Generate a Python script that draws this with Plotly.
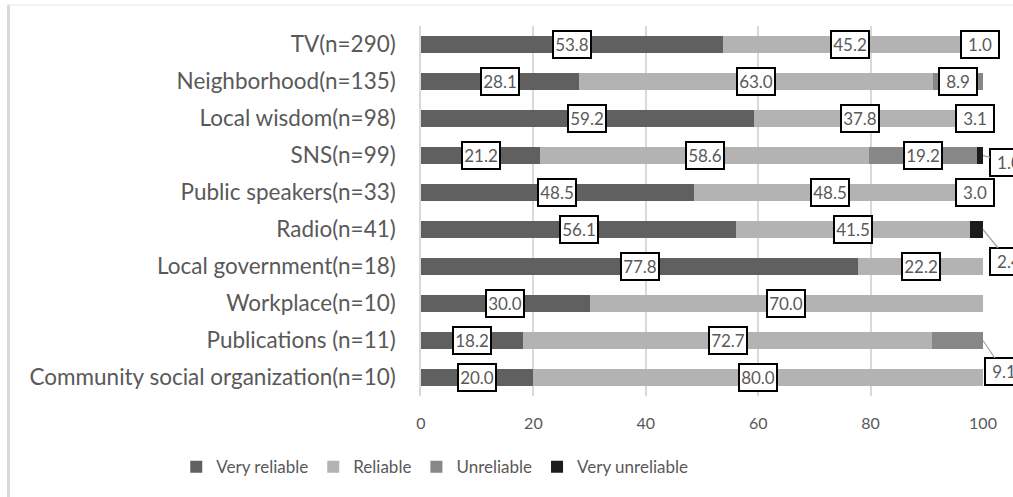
import plotly.graph_objects as go

# Information sources and the share (%) of each reliability rating
categories = [
    "TV(n=290)",
    "Neighborhood(n=135)",
    "Local wisdom(n=98)",
    "SNS(n=99)",
    "Public speakers(n=33)",
    "Radio(n=41)",
    "Local government(n=18)",
    "Workplace(n=10)",
    "Publications (n=11)",
    "Community social organization(n=10)",
]
very_reliable = [53.8, 28.1, 59.2, 21.2, 48.5, 56.1, 77.8, 30.0, 18.2, 20.0]
reliable = [45.2, 63.0, 37.8, 58.6, 48.5, 41.5, 22.2, 70.0, 72.7, 80.0]
unreliable = [1.0, 8.9, 3.1, 19.2, 3.0, 0.0, 0.0, 0.0, 9.1, 0.0]
very_unreliable = [0.0, 0.0, 0.0, 1.0, 0.0, 2.4, 0.0, 0.0, 0.0, 0.0]
x_ticks = [0, 20, 40, 60, 80, 100]

series = [
    ("Very reliable", very_reliable, "#606060"),
    ("Reliable", reliable, "#b3b3b3"),
    ("Unreliable", unreliable, "#878787"),
    ("Very unreliable", very_unreliable, "#1c1c1c"),
]

# Small segments whose labels sit outside the bar with a leader line (pixel offsets)
callouts = {
    ("SNS(n=99)", "Very unreliable"): (26, 7),
    ("Radio(n=41)", "Very unreliable"): (26, 32),
    ("Publications (n=11)", "Unreliable"): (21, 31),
}

W, H = 1013, 497
L, R, T, B = 421, 30, 26, 101
FONT = "Lato"
TEXT = "#595959"
GRID = "#d9d9d9"

fig = go.Figure()
for name, vals, color in series:
    fig.add_trace(go.Bar(
        y=categories, x=vals, name=name, orientation="h",
        marker=dict(color=color, line=dict(width=0)),
        hoverinfo="x+name",
    ))

annotations = []
base = [0.0] * len(categories)
for name, vals, _ in series:
    for i, (cat, v) in enumerate(zip(categories, vals)):
        if v > 0:
            key = (cat, name)
            common = dict(
                y=cat, xref="x", yref="y", text=f"{v:.1f}",
                font=dict(family=FONT, size=17, color=TEXT),
                width=34, height=23, align="center", valign="middle",
                bgcolor="white", bordercolor="black", borderwidth=2, borderpad=1,
            )
            if key in callouts:
                ax, ay = callouts[key]
                annotations.append(dict(
                    x=base[i] + v, showarrow=True, arrowhead=0, arrowwidth=1.3,
                    arrowcolor="#a6a6a6", ax=ax, ay=ay, standoff=0, **common))
            else:
                annotations.append(dict(x=base[i] + v / 2, showarrow=False, **common))
        base[i] += v

plot_w = W - L - R
plot_h = H - T - B


def px_x(p):
    return (p - L) / plot_w


def px_y(p):
    return (H - B - p) / plot_h


# Outer chart frame (left and top edges)
shapes = [
    dict(type="line", xref="paper", yref="paper",
         x0=px_x(8.5), x1=px_x(8.5), y0=px_y(5), y1=px_y(H + 10),
         line=dict(color="#d9d9d9", width=3)),
    dict(type="line", xref="paper", yref="paper",
         x0=px_x(7), x1=px_x(W + 10), y0=px_y(5), y1=px_y(5),
         line=dict(color="#e6e6e6", width=1)),
]

fig.update_layout(
    width=W, height=H,
    margin=dict(l=L, r=R, t=T, b=B, pad=0),
    barmode="stack", bargap=0.55,
    paper_bgcolor="white", plot_bgcolor="white",
    font=dict(family=FONT, color=TEXT),
    xaxis=dict(
        range=[0, 100], tickvals=x_ticks, showgrid=True, gridcolor=GRID, gridwidth=1.5,
        zeroline=False, showline=False, ticks="", ticklabelstandoff=16,
        tickfont=dict(family=FONT, size=16, color=TEXT), fixedrange=True,
    ),
    yaxis=dict(
        autorange="reversed", showgrid=False, zeroline=False,
        showline=True, linecolor=GRID, linewidth=1.5, ticks="",
        ticklabelstandoff=19, tickfont=dict(family=FONT, size=22.5, color=TEXT),
    ),
    legend=dict(
        orientation="h", xref="container", yref="container",
        x=0.174, xanchor="left", y=0.06, yanchor="middle",
        font=dict(family=FONT, size=17, color=TEXT), traceorder="normal",
        itemwidth=30,
    ),
    annotations=annotations,
    shapes=shapes,
)

fig.write_html("out.html")
